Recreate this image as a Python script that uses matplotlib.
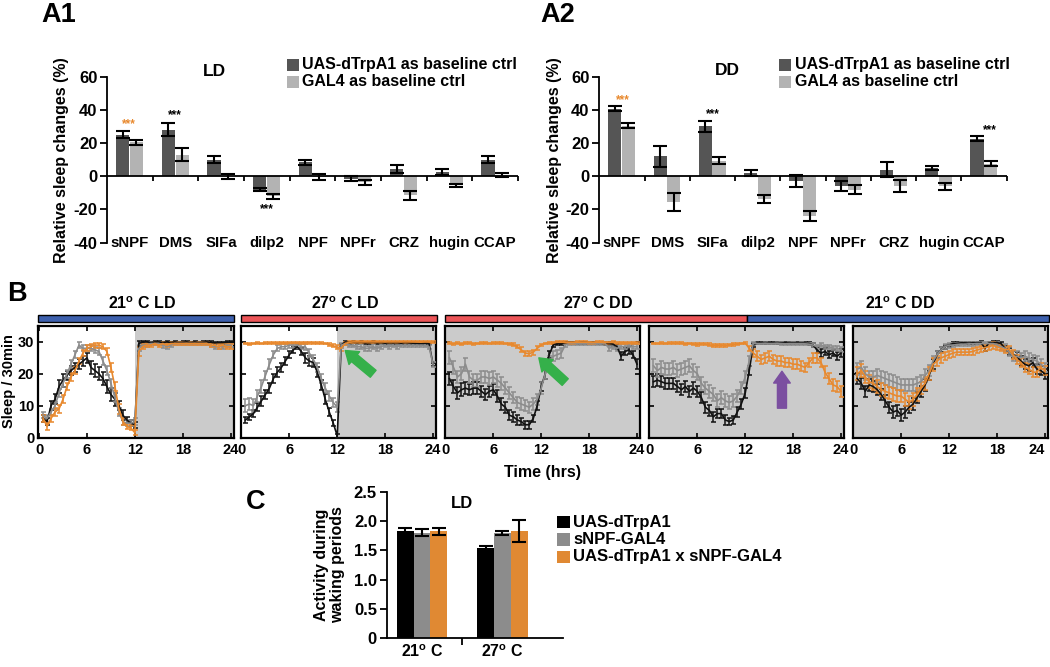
import numpy as np
import matplotlib
matplotlib.use('Agg')
from matplotlib import pyplot as plt
from matplotlib.patches import Rectangle

plt.rcParams['font.family'] = ['Liberation Sans', 'DejaVu Sans']
plt.rcParams['font.weight'] = 'bold'
plt.rcParams['axes.labelweight'] = 'bold'
plt.rcParams['axes.unicode_minus'] = False
plt.rcParams['mathtext.fontset'] = 'custom'
plt.rcParams['mathtext.rm'] = 'Liberation Sans:bold'
plt.rcParams['mathtext.it'] = 'Liberation Sans:bold'
plt.rcParams['mathtext.bf'] = 'Liberation Sans:bold'

W, H = 1050, 667

# ---- panel A: relative sleep changes ----
genes = ['sNPF', 'DMS', 'SIFa', 'dilp2', 'NPF', 'NPFr', 'CRZ', 'hugin', 'CCAP']
ld_uas = [25, 28, 10, -8, 8.5, -1.5, 4.5, 2.5, 10]
ld_uas_err = [2, 4, 2, 1, 1.5, 1.5, 2.5, 2, 2]
ld_gal4 = [20.5, 13, 0, -12, -0.5, -3.5, -11.5, -5.5, 0.5]
ld_gal4_err = [1.5, 4, 1.5, 1.5, 2, 1.5, 2.5, 1, 1.2]
dd_uas = [40.6, 12, 30, 2, -3, -6, 4, 5, 22.5]
dd_uas_err = [1.5, 6.5, 3.3, 2, 3.5, 3, 4.5, 1.5, 1.5]
dd_gal4 = [30.5, -15.5, 9.5, -13.5, -24, -8, -5.6, -6, 7.5]
dd_gal4_err = [1.5, 5.7, 2.3, 2.3, 3.1, 2.5, 3.6, 2, 1.5]

# ---- panel B: sleep per 30 min, half-hour bins ----
half_hours = np.arange(0.5, 24.01, 0.5)

b1 = [6, 5, 10, 12, 16, 18, 19.5, 21, 22, 23, 24, 25, 22, 21, 20, 18.5, 16, 13.5, 12, 10, 7, 5.5, 4.5, 4,
      29.5, 30, 30, 29.8, 30, 30, 29.8, 30, 29.8, 30, 29.8, 29.9, 30, 29.8, 30, 29.8, 29.9, 30, 29.9, 29.7, 29.8, 29.8, 29.9, 30]
g1 = [7, 6, 8, 10, 14, 17, 20, 23, 26, 29, 28, 28, 28, 27.5, 27, 24, 21, 17, 12.5, 8, 5, 4.5, 4.5, 5,
      28, 29, 29, 29.5, 29.5, 29.5, 29, 28.5, 29, 29.5, 29.5, 29.5, 29.5, 29.5, 29.5, 29.5, 29.5, 29.5, 29, 28.5, 28.5, 28.5, 29, 29]
o1 = [6, 3.5, 6, 8, 9, 12, 16, 19, 21, 24, 26.5, 28, 28.5, 29, 29, 28.5, 27, 22, 16, 9, 5, 3.5, 3, 1.5,
      27, 28.5, 29, 29, 29.5, 29, 29.5, 29, 29.5, 29.5, 29.5, 29.5, 29.5, 29.5, 29.5, 29.5, 29.5, 29.5, 29, 29, 28.5, 29, 28.5, 28.5]

b2 = [5.5, 6.5, 7.5, 9.5, 11.5, 13.5, 15.5, 18.5, 20.5, 22, 24, 26, 27.5, 28.5, 27, 25, 24, 23.5, 20.5, 16.5, 12, 8, 4.5, 0.5,
      29, 30, 29.8, 29.9, 29.8, 29.9, 29.7, 29.8, 29.9, 29.7, 29.8, 29.6, 29.8, 29.7, 29.8, 29.6, 29.8, 29.7, 29.6, 29.5, 29.4, 29.6, 29.5, 23]
g2 = [10, 10.5, 10, 13, 16, 19.5, 23, 26, 28, 28.5, 28.5, 29, 29, 29, 28.5, 28.5, 26.5, 24.5, 22, 18.5, 15.5, 13, 11, 9.5,
      29, 29.5, 29, 29, 28.5, 28.5, 28, 28, 28.5, 28, 28.5, 29, 28.5, 29, 28.5, 29, 29, 29, 29, 29, 29, 29, 28.5, 23]
o2 = [29.5, 29.3, 29.5, 29.6, 29.5, 29.6, 29.6, 29.7, 29.6, 29.7, 29.7, 29.7, 29.8, 29.8, 29.7, 29.8, 29.8, 29.7, 29.6, 29.6, 29.5, 29.2, 28.8, 28.3,
      28, 29.5, 29.9, 30, 30, 30, 30, 30, 30, 30, 30, 30, 30, 30, 30, 30, 30, 30, 30, 30, 30, 30, 30, 30]

b3 = [18.5, 16, 14, 15, 15.5, 15, 15.5, 15.5, 14.5, 13.5, 14.5, 15, 13, 10.5, 9.5, 7, 6.5, 5.5, 5, 4, 4, 6, 10, 16,
      20, 26, 29, 29.5, 29.5, 29.8, 29.8, 29.8, 29.7, 29.8, 29.8, 29.7, 29.8, 29.7, 29.6, 29.5, 29.5, 29.3, 28.5, 25.5, 27, 27.5, 26, 23]
g3 = [25, 22, 19, 20, 23, 19, 18, 18, 19, 19, 18.5, 19, 18, 17, 15.5, 14, 12.5, 11, 10.5, 10, 9.5, 10.5, 12, 15.5,
      20, 24, 25.5, 26, 26.5, 29, 29.5, 29.5, 29.5, 29.5, 29.5, 29.5, 29.5, 29.5, 29.5, 29.5, 28, 28.5, 28, 28.5, 28.5, 29, 28.5, 28.5]
o3 = [29.6, 29.4, 29.6, 29.3, 29.6, 29.7, 29.4, 29.5, 29.6, 29.7, 29.5, 29.6, 29.7, 29.6, 29.5, 29.4, 29.2, 28.5, 27.5, 26.5, 26.3, 26.8, 28, 29,
      29.5, 29.8, 29.8, 29.9, 29.9, 29.9, 29.8, 29.8, 29.9, 29.9, 29.9, 29.8, 29.8, 29.9, 29.9, 29.8, 29.8, 29.9, 29.8, 29.8, 29.7, 29.7, 29.8, 29.7]

b4 = [17.5, 18, 17.5, 17, 17, 17, 16, 15, 16, 14.5, 15.5, 14.5, 12.5, 9.5, 8.5, 6.5, 7.5, 7.5, 5.5, 5, 5.5, 8, 10.5, 14,
      21, 29, 29.7, 29.7, 29.8, 29.7, 29.7, 29.8, 29.7, 29.7, 29.8, 29.7, 29.6, 29.7, 29.6, 29.5, 29, 27.5, 26.5, 27, 26, 26.5, 25.5, 26.5]
g4 = [22.5, 21, 22, 21.5, 21.5, 22, 21, 21.5, 22, 22.5, 21, 20, 17, 15.5, 14.5, 13.5, 11.5, 12.5, 11.5, 11, 11.5, 13, 15.5, 19,
      24, 29.5, 29.5, 29.5, 29.6, 29.5, 29.5, 29.6, 29.5, 29.4, 29.5, 29.5, 29.4, 29.5, 29.4, 29.3, 29, 28.5, 29, 28.5, 28.5, 28, 28, 27.5]
o4 = [29.5, 29.5, 29.6, 29.5, 29.6, 29.6, 29.6, 29.6, 29.4, 29.5, 29.3, 29.2, 29.4, 29.3, 29.1, 28.9, 28.9, 29, 28.8, 29.1, 29.2, 29.3, 29.5, 29.6,
      28, 26.5, 25.5, 24.5, 25, 25.5, 24.5, 24, 24, 23.5, 23.5, 23, 23, 22.5, 22, 23.5, 25, 25, 23.5, 20.5, 18.5, 16.5, 16, 14.5]

b5 = [18.5, 17, 14.5, 16.5, 16, 15, 13.5, 11.5, 9.5, 8, 8.5, 7, 8, 9.5, 10.5, 12.5, 14.5, 16.5, 19.5, 23, 26, 27.5, 28.5, 29,
      29.5, 29.5, 29.7, 29.7, 29.6, 29.7, 29.7, 29.8, 28, 29.7, 29.8, 29.8, 29.5, 28, 27, 26, 25.5, 24, 23, 22.5, 23.5, 21.5, 21, 20]
g5 = [21.5, 22, 20, 19, 19, 19.5, 19, 18.5, 18, 17.5, 17, 16.5, 16.5, 16.5, 16.5, 17, 17.5, 19.5, 21, 24, 26, 27.5, 28.5, 29,
      29, 29.2, 29.3, 29.3, 29.4, 29.4, 29.5, 29.5, 29.5, 29.5, 29.5, 29.2, 28.5, 28, 27, 25.5, 25.5, 25, 25.5, 25, 24.5, 24, 23, 22]
o5 = [20, 21, 19, 17.5, 17, 16, 15, 14.5, 14, 13.5, 13, 13, 12, 11, 12, 13.5, 15.5, 17, 20, 23, 24, 25, 25.5, 26,
      26.5, 26.8, 26.8, 26.8, 26.8, 27, 27.5, 27.8, 28.2, 28.5, 28.9, 28.5, 28, 27.5, 27.8, 26, 24.5, 23.5, 22, 21.5, 20.5, 20.5, 22, 21]

# sem per bin
b1e = [1, 1, 1.5, 1.5, 2, 2, 1.5, 1.5, 1.5, 1.5, 1.5, 1.5, 2, 2, 2, 2, 2, 2, 2, 1.5, 1.5, 1, 1, 1,
       0.8, 0.3, 0.3, 0.3, 0.3, 0.3, 0.3, 0.3, 0.3, 0.3, 0.3, 0.3, 0.3, 0.3, 0.3, 0.3, 0.3, 0.3, 0.3, 0.3, 0.3, 0.3, 0.3, 0.3]
g1e = [1, 1, 1, 1.2, 1.2, 1.2, 1.2, 1.2, 1, 1, 1, 1, 1, 1, 1, 1.2, 1.5, 1.5, 1.5, 1.2, 1, 1, 1, 1,
       1, 0.5, 0.5, 0.5, 0.4, 0.4, 0.8, 0.8, 0.5, 0.4, 0.4, 0.4, 0.4, 0.4, 0.4, 0.4, 0.4, 0.4, 0.6, 0.8, 0.8, 0.8, 0.5, 0.5]
o1e = [1, 1.2, 1.2, 1.2, 1.2, 1.2, 1.2, 1.2, 1.2, 1, 1, 1, 0.8, 0.8, 0.8, 0.8, 1, 1.5, 1.5, 1.5, 1, 0.8, 0.8, 0.8,
       1.5, 0.8, 0.6, 0.6, 0.5, 0.6, 0.5, 0.6, 0.5, 0.5, 0.5, 0.5, 0.5, 0.5, 0.5, 0.5, 0.5, 0.5, 0.6, 0.6, 0.8, 0.6, 0.8, 0.8]
b2e = [0.8, 1, 1, 1.2, 1.5, 1.5, 1.5, 1.5, 1.5, 1.5, 1.2, 1.2, 1, 0.8, 1.2, 1.5, 1.5, 1.5, 1.5, 1.5, 1.5, 1.2, 1, 0.5,
       0.4, 0.3, 0.3, 0.3, 0.3, 0.3, 0.3, 0.3, 0.3, 0.3, 0.3, 0.3, 0.3, 0.3, 0.3, 0.3, 0.3, 0.3, 0.3, 0.3, 0.3, 0.3, 0.3, 0.5]
g2e = [2, 2, 2, 2, 2, 1.5, 1.5, 1.2, 1, 0.8, 0.8, 0.8, 0.8, 0.8, 0.8, 1, 1.2, 1.5, 1.5, 1.5, 1.5, 1.5, 1.5, 1.5,
       0.8, 0.5, 0.6, 0.6, 0.8, 0.8, 0.8, 0.8, 0.8, 0.8, 0.8, 0.6, 0.6, 0.6, 0.6, 0.6, 0.6, 0.6, 0.6, 0.6, 0.6, 0.6, 0.6, 0.8]
o2e = [0.3, 0.3, 0.3, 0.3, 0.3, 0.3, 0.3, 0.3, 0.3, 0.3, 0.3, 0.3, 0.3, 0.3, 0.3, 0.3, 0.3, 0.3, 0.3, 0.3, 0.3, 0.4, 0.5, 0.6,
       0.8, 0.4, 0.3, 0.3, 0.3, 0.3, 0.3, 0.3, 0.3, 0.3, 0.3, 0.3, 0.3, 0.3, 0.3, 0.3, 0.3, 0.3, 0.3, 0.3, 0.3, 0.3, 0.3, 0.3]
b3e = [2, 2, 2, 2, 1.8, 1.8, 1.8, 1.8, 1.8, 1.8, 1.8, 1.8, 1.8, 1.8, 1.8, 1.5, 1.5, 1.5, 1.2, 1.2, 1.2, 1.2, 1.5, 1.5,
       1.5, 1, 0.6, 0.5, 0.5, 0.3, 0.3, 0.3, 0.3, 0.3, 0.3, 0.3, 0.3, 0.3, 0.3, 0.4, 0.5, 0.6, 0.8, 1.2, 1.2, 1.2, 1.2, 1.5]
g3e = [2, 2, 2, 2, 2, 2, 2, 2, 2, 2, 2, 2, 2, 2, 2, 1.8, 1.8, 1.8, 1.8, 1.8, 1.8, 1.8, 1.8, 1.8,
       1.5, 1.5, 1.5, 1.5, 1.5, 0.5, 0.4, 0.4, 0.4, 0.4, 0.4, 0.4, 0.4, 0.4, 0.4, 0.4, 0.8, 0.8, 0.8, 0.8, 0.8, 0.6, 0.8, 0.8]
o3e = [0.3, 0.3, 0.3, 0.3, 0.3, 0.3, 0.3, 0.3, 0.3, 0.3, 0.3, 0.3, 0.3, 0.3, 0.3, 0.3, 0.4, 0.5, 0.8, 0.8, 0.8, 0.8, 0.6, 0.4,
       0.3, 0.3, 0.3, 0.3, 0.3, 0.3, 0.3, 0.3, 0.3, 0.3, 0.3, 0.3, 0.3, 0.3, 0.3, 0.3, 0.3, 0.3, 0.3, 0.3, 0.3, 0.3, 0.3, 0.3]
b4e = [1.8, 1.8, 1.8, 1.8, 1.8, 1.8, 1.8, 1.8, 1.8, 1.8, 1.8, 1.8, 1.8, 1.8, 1.8, 1.5, 1.5, 1.5, 1.5, 1.2, 1.2, 1.5, 1.5, 1.5,
       1.5, 0.6, 0.3, 0.3, 0.3, 0.3, 0.3, 0.3, 0.3, 0.3, 0.3, 0.3, 0.3, 0.3, 0.3, 0.4, 0.6, 1, 1.2, 1, 1.2, 1, 1.2, 1.2]
g4e = [2, 2, 2, 2, 2, 2, 2, 2, 2, 2, 2, 2, 2, 2, 2, 2, 2, 2, 2, 2, 2, 2, 2, 2,
       1.5, 0.5, 0.3, 0.3, 0.3, 0.3, 0.3, 0.3, 0.4, 0.4, 0.4, 0.4, 0.4, 0.4, 0.4, 0.4, 0.6, 0.6, 0.6, 0.6, 0.6, 0.6, 0.8, 0.8]
o4e = [0.3, 0.3, 0.3, 0.3, 0.3, 0.3, 0.3, 0.3, 0.4, 0.3, 0.4, 0.5, 0.4, 0.4, 0.5, 0.5, 0.5, 0.5, 0.5, 0.4, 0.4, 0.3, 0.3, 0.3,
       0.8, 1.2, 1.5, 1.5, 1.5, 1.5, 1.5, 1.5, 1.5, 1.5, 1.5, 1.5, 1.5, 1.5, 1.5, 1.5, 1.5, 1.5, 1.5, 1.8, 1.8, 1.8, 1.8, 1.8]
b5e = [1.8, 1.8, 1.8, 1.8, 1.8, 1.8, 1.8, 1.8, 1.8, 1.8, 1.8, 1.8, 1.8, 1.8, 1.8, 1.8, 1.8, 1.8, 1.5, 1.5, 1, 0.8, 0.6, 0.5,
       0.4, 0.4, 0.4, 0.4, 0.4, 0.4, 0.4, 0.4, 0.8, 0.4, 0.4, 0.4, 0.5, 0.8, 1, 1.2, 1.2, 1.5, 1.5, 1.5, 1.5, 1.5, 1.5, 1.5]
g5e = [2, 2, 2, 2, 2, 2, 2, 2, 2, 2, 2, 2, 2, 2, 2, 2, 2, 2, 1.8, 1.5, 1.2, 1, 0.8, 0.8,
       0.6, 0.6, 0.6, 0.6, 0.6, 0.6, 0.6, 0.6, 0.6, 0.6, 0.6, 0.8, 1, 1.2, 1.5, 1.5, 1.5, 1.5, 1.5, 1.5, 1.5, 1.5, 1.5, 1.5]
o5e = [2, 2, 2, 2, 2, 2, 2, 2, 2, 2, 2, 2, 2, 2, 2, 2, 2, 2, 2, 2, 1.5, 1.5, 1.2, 1.2,
       1.2, 1, 1, 1, 1, 1, 1, 1, 1, 1, 1, 1, 1, 1, 1, 1.5, 1.5, 1.5, 1.5, 1.5, 1.5, 1.5, 1.5, 1.5]

b_panels = [
    ('21LD', b1, b1e, g1, g1e, o1, o1e),
    ('27LD', b2, b2e, g2, g2e, o2, o2e),
    ('27DD', b3, b3e, g3, g3e, o3, o3e),
    ('27-21DD', b4, b4e, g4, g4e, o4, o4e),
    ('21DD', b5, b5e, g5, g5e, o5, o5e),
]

# ---- panel C: activity during waking ----
temps = ['21$^{\\mathrm{o}}$ C', '27$^{\\mathrm{o}}$ C']
act_uas = [1.83, 1.54]
act_uas_err = [0.06, 0.03]
act_gal4 = [1.80, 1.80]
act_gal4_err = [0.06, 0.04]
act_cross = [1.83, 1.83]
act_cross_err = [0.06, 0.19]

DARK = '#555555'
LIGHT = '#b3b3b3'
ORANGE = '#e8892e'
GREY = '#8c8c8c'
SHADE = '#cbcbcb'
BLUE = '#3d60ad'
RED = '#ec5558'

fig = plt.figure(figsize=(W / 100, H / 100), dpi=100)


def fx(x):
    return x / W


def fy(y):
    return 1 - y / H


def add_axes_px(left, top, right, bottom):
    return fig.add_axes([fx(left), fy(bottom), (right - left) / W, (bottom - top) / H])


def fig_text(x, y, s, **kw):
    fig.text(fx(x), fy(y), s, **kw)


def legend_square(x, y, size, color):
    fig.patches.append(Rectangle((fx(x), fy(y + size / 2)), size / W, size / H, facecolor=color,
                                 edgecolor='none', transform=fig.transFigure, figure=fig))


def draw_a(ax, uas, uas_err, gal4, gal4_err, title, title_xy, stars):
    x = np.arange(len(genes))
    w = 0.29
    ax.bar(x - 0.155, uas, w, color=DARK, zorder=2)
    ax.bar(x + 0.145, gal4, w, color=LIGHT, zorder=2)
    ax.errorbar(x - 0.155, uas, yerr=uas_err, fmt='none', ecolor='black', elinewidth=1.5, capsize=5, capthick=1.5, zorder=3)
    ax.errorbar(x + 0.145, gal4, yerr=gal4_err, fmt='none', ecolor='black', elinewidth=1.5, capsize=5, capthick=1.5, zorder=3)
    ax.set_xlim(-0.5, len(genes) - 0.5)
    ax.set_ylim(-40, 60)
    ax.axhline(0, color='black', lw=1.3, zorder=4)
    ax.vlines(x + 0.5, -2.8, 0, color='black', lw=1.3, clip_on=False, zorder=4)
    for s in ['top', 'right', 'bottom']:
        ax.spines[s].set_visible(False)
    ax.spines['left'].set_linewidth(1.3)
    ax.set_xticks([])
    ax.set_yticks([-40, -20, 0, 20, 40, 60])
    ax.tick_params(axis='y', direction='out', length=5, width=1.3, labelsize=12, pad=2)
    for i, g in enumerate(genes):
        ax.text(i, -40, g, ha='center', va='center', fontsize=10.8, fontweight='bold')
    ax.text(title_xy[0], title_xy[1], title, ha='center', va='center', fontsize=12.5, fontweight='bold')
    for sx, sy, c in stars:
        ax.text(sx, sy, '***', ha='center', va='center', fontsize=8.5, color=c)
    ax.set_ylabel('Relative sleep changes (%)', fontsize=11.5, fontweight='bold', labelpad=3)


# A1
ax_a1 = add_axes_px(107, 76.7, 518, 242.7)
draw_a(ax_a1, ld_uas, ld_uas_err, ld_gal4, ld_gal4_err, 'LD', (1.86, 63),
       [(-0.03, 31.5, ORANGE), (0.99, 37, 'black'), (3.0, -19.5, 'black')])
# A2
ax_a2 = add_axes_px(599.3, 76.7, 1006.7, 242.7)
draw_a(ax_a2, dd_uas, dd_uas_err, dd_gal4, dd_gal4_err, 'DD', (2.32, 64),
       [(0.02, 46, ORANGE), (2.02, 37.5, 'black'), (8.12, 28, 'black')])

for lx, tx in [(287, 302), (779, 795)]:
    legend_square(lx, 65, 12, DARK)
    legend_square(lx, 82, 12, LIGHT)
    fig_text(tx, 65, 'UAS-dTrpA1 as baseline ctrl', ha='left', va='center', fontsize=11.5, fontweight='bold')
    fig_text(tx, 82, 'GAL4 as baseline ctrl', ha='left', va='center', fontsize=11.5, fontweight='bold')

fig_text(41, 15, 'A1', ha='left', va='center', fontsize=19.5, fontweight='bold')
fig_text(540, 15, 'A2', ha='left', va='center', fontsize=19.5, fontweight='bold')
fig_text(7, 294, 'B', ha='left', va='center', fontsize=19.5, fontweight='bold')
fig_text(246, 502, 'C', ha='left', va='center', fontsize=19.5, fontweight='bold')

# ---- B ----
lefts = [38.3, 240.7, 444.7, 648.7, 852.5]
b_axes = []
for k, (name, bv, be, gv, ge, ov, oe) in enumerate(b_panels):
    ax = add_axes_px(lefts[k], 326, lefts[k] + 195.5, 437.5)
    b_axes.append(ax)
    if k < 2:
        ax.axvspan(12, 24.6, color=SHADE, lw=0, zorder=0)
    else:
        ax.set_facecolor(SHADE)
    for vals, err, col in [(bv, be, '#111111'), (gv, ge, GREY), (ov, oe, ORANGE)]:
        ax.errorbar(half_hours, vals, yerr=err, color=col, lw=1.2, elinewidth=1.1,
                    capsize=1.8, capthick=1.1, zorder=3)
    ax.set_xlim(-0.1, 24.4)
    ax.set_ylim(0, 35)
    ax.set_xticks([0, 6, 12, 18, 24])
    ax.set_yticks([0, 10, 20, 30])
    ax.tick_params(direction='in', length=3.5, width=1.2, top=True, right=True,
                   labelsize=10.5, pad=4)
    ax.tick_params(axis='y', pad=3)
    if k > 0:
        ax.set_yticklabels([])
    for s in ax.spines.values():
        s.set_linewidth(1.6)

# keep the last "24" inside the figure
b_axes[-1].get_xticklabels()[-1].set_horizontalalignment('right')

fig_text(9, 381, 'Sleep / 30min', ha='center', va='center', rotation=90, fontsize=10.5, fontweight='bold')

arrow_style = 'simple,head_length=0.85,head_width=1.2,tail_width=0.65'
b_axes[1].annotate('', xy=(13.0, 27.3), xytext=(16.5, 20),
                   arrowprops=dict(arrowstyle=arrow_style, color='#35b04a', shrinkA=0, shrinkB=0, mutation_scale=10), zorder=5)
b_axes[2].annotate('', xy=(11.7, 25), xytext=(15, 17.4),
                   arrowprops=dict(arrowstyle=arrow_style, color='#35b04a', shrinkA=0, shrinkB=0, mutation_scale=10), zorder=5)
b_axes[3].annotate('', xy=(16.6, 20.8), xytext=(16.6, 9.2),
                   arrowprops=dict(arrowstyle=arrow_style, color='#7b4fa0', shrinkA=0, shrinkB=0, mutation_scale=10), zorder=5)

# condition bars above B
for x0, x1, col in [(37.7, 233.5, BLUE), (240.7, 436.7, RED), (444.7, 747.4, RED), (747.4, 1048.5, BLUE)]:
    fig.patches.append(Rectangle((fx(x0), fy(321.5)), (x1 - x0) / W, 6.5 / H, facecolor=col, edgecolor='black',
                                 lw=1, transform=fig.transFigure, figure=fig))
for x, s in [(141.7, '21$^{\\mathrm{o}}$ C LD'), (345, '27$^{\\mathrm{o}}$ C LD'),
             (598, '27$^{\\mathrm{o}}$ C DD'), (900, '21$^{\\mathrm{o}}$ C DD')]:
    fig_text(x, 304, s, ha='center', va='center', fontsize=11.5, fontweight='bold')
fig_text(543, 472, 'Time (hrs)', ha='center', va='center', fontsize=11.5, fontweight='bold')

# ---- C ----
ax_c = add_axes_px(386.7, 492, 562.7, 638)
xc = np.arange(len(temps))
bw = 0.21
ekw = dict(elinewidth=1.5, capsize=5, capthick=1.5, ecolor='black')
ax_c.bar(xc - bw, act_uas, bw, color='black', yerr=act_uas_err, error_kw=ekw)
ax_c.bar(xc, act_gal4, bw, color=GREY, yerr=act_gal4_err, error_kw=ekw)
ax_c.bar(xc + bw, act_cross, bw, color='#e08933', yerr=act_cross_err, error_kw=ekw)
ax_c.set_xlim(-0.44, 1.75)
ax_c.set_ylim(0, 2.5)
ax_c.set_yticks([0, 0.5, 1.0, 1.5, 2.0, 2.5])
ax_c.set_yticklabels(['0', '0.5', '1.0', '1.5', '2.0', '2.5'])
ax_c.set_xticks([0.5])
ax_c.set_xticklabels([''])
ax_c.tick_params(direction='out', length=5, width=1.3, labelsize=12, pad=2)
for s in ['top', 'right']:
    ax_c.spines[s].set_visible(False)
for s in ['left', 'bottom']:
    ax_c.spines[s].set_linewidth(1.3)
for i, t in enumerate(temps):
    ax_c.text(xc[i], -0.1, t, ha='center', va='top', fontsize=11.5, fontweight='bold')
ax_c.text(0.5, 2.3, 'LD', ha='center', va='center', fontsize=12, fontweight='bold')
ax_c.set_ylabel('Activity during\nwaking periods', fontsize=11.5, fontweight='bold', labelpad=6, linespacing=1.1)

for row, (col, label) in enumerate([('black', 'UAS-dTrpA1'), (GREY, 'sNPF-GAL4'),
                                    ('#e08933', 'UAS-dTrpA1 x sNPF-GAL4')]):
    yy = 522 + row * 17.5
    legend_square(557, yy, 12.5, col)
    fig_text(573, yy, label, ha='left', va='center', fontsize=12, fontweight='bold')

fig.savefig('out.png', dpi=100)
